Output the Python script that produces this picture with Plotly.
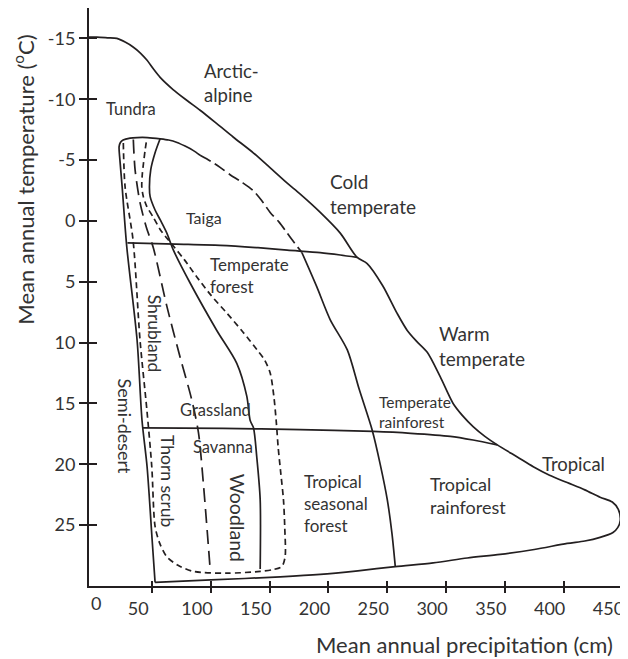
import plotly.graph_objects as go

# ---------------- data (precipitation in cm, temperature in degC) ----------------
outer_precip = [-3.7, 3, 12, 20, 27, 33.8, 40, 45.7, 51, 56.8, 67.8, 79.7, 90.8, 105, 118.9,
                136, 150, 164.9, 176, 193, 210, 224.4, 232.9, 246, 258.4, 267, 275, 284, 295,
                306, 314, 323, 333, 343.6, 360.6, 374.2, 388, 403, 418, 431, 441.4, 446.5,
                448.2, 446, 442, 431, 418, 403, 375, 346, 318, 289, 256.8, 225, 193, 159,
                100, 52.5]
outer_temp = [-15.1, -15.1, -15.05, -15.0, -14.7, -14.3, -13.8, -13.2, -12.5, -11.8, -10.8,
              -9.9, -9.1, -8.0, -6.9, -5.6, -4.4, -3.1, -2.2, -0.7, 1.0, 3.0, 3.5, 5.3, 7.6,
              9.0, 9.9, 10.8, 12.8, 15.0, 16.0, 16.9, 17.7, 18.4, 19.4, 20.2, 20.9, 21.5,
              22.1, 22.7, 23.1, 23.7, 24.6, 25.2, 25.6, 26.0, 26.3, 26.5, 27.0, 27.4, 27.7,
              28.1, 28.4, 28.75, 29.05, 29.25, 29.5, 29.7]

desert_precip = [52.5, 50, 45.7, 41.4, 37.2, 28.4, 24.5, 22.6, 21.9, 23.0, 25.3, 31.2,
                 37.2, 46, 56.8, 64, 71.2, 78, 84.8, 90.8]
desert_temp = [29.7, 26.2, 20.2, 16.4, 9.8, 2.1, -2.8, -5.0, -6.1, -6.45, -6.65, -6.8,
               -6.85, -6.85, -6.75, -6.65, -6.45, -6.15, -5.8, -5.4]

taiga_dash_precip = [90.8, 100, 107.8, 116.3, 126, 135.9, 143, 150.4, 158, 164.9, 171, 177.4]
taiga_dash_temp = [-5.4, -4.9, -4.4, -3.8, -3.2, -2.5, -1.7, -0.7, 0.1, 1.0, 1.8, 2.6]

rain_precip = [177.4, 190, 201.4, 216, 226, 237.2, 244, 250, 254, 256.8]
rain_temp = [2.6, 5.4, 8.1, 10.6, 13.8, 17.2, 20.0, 22.9, 25.7, 28.4]

cold_line_precip = [29.0, 70, 107.8, 140, 164.9, 192.9, 210, 224.4]
cold_line_temp = [1.8, 1.9, 2.0, 2.2, 2.4, 2.6, 2.8, 3.0]

warm_line_precip = [42.2, 110, 176, 238, 270, 303.6, 323, 343.6]
warm_line_temp = [17.0, 17.05, 17.15, 17.3, 17.45, 17.7, 18.0, 18.4]

wood_precip = [56.8, 52.5, 48.8, 47.7, 48.3, 52.5, 56.8, 62.5, 68.1, 82.3, 105, 122,
               130.5, 133.4, 136.2, 139, 141.9, 141.9]
wood_temp = [-6.75, -5.6, -4.2, -2.8, -2.0, -0.9, -0.1, 1.0, 2.4, 5.1, 9.0, 11.7, 14.4,
             16.4, 17.0, 19.4, 22.9, 28.6]

grass_precip = [34, 35.5, 39.7, 45, 51, 62.5, 73.8, 83.7, 89.4, 93.6, 99.5]
grass_temp = [-6.7, -4.2, -1.5, 0.5, 2.2, 7.0, 11.2, 14.7, 17.4, 21.6, 28.8]

fire_precip = [25.5, 27.0, 33.8, 39.7, 45.5, 49.7, 52.5, 56.5, 62.5, 72, 85.1, 113.5, 141.9,
               153, 160.3, 163.1, 162.8, 161.7, 159.5, 157.2, 155.5, 153.5, 150.4, 145.5,
               139.3, 127, 113.8, 100, 88, 77.5, 67.5, 61.5, 56.8, 51, 45.4, 42.5, 41.2,
               41.6, 42.6, 44, 45.4]
fire_temp = [-6.4, -2.8, 1.6, 9.8, 15.5, 20.2, 25.1, 26.5, 27.6, 28.3, 28.8, 28.95, 28.8,
             28.65, 28.4, 27.6, 25.2, 22.9, 20.8, 18.6, 16.4, 14.4, 12.5, 11.4, 10.6, 9.1,
             7.6, 6.1, 4.6, 3.2, 2.0, 1.3, 0.7, -0.3, -1.2, -2.0, -2.8, -3.8, -4.7, -5.8, -6.7]

x_ticks = [50, 100, 150, 200, 250, 300, 350, 400, 450]
y_ticks = [-15, -10, -5, 0, 5, 10, 15, 20, 25]
y_tick_text = ["-15", "-10", "-5", "0", "5", "10", "15", "20", "25"]

biome_labels = ["Arctic-<br>alpine", "Tundra", "Taiga", "Temperate<br>forest", "Cold<br>temperate",
                "Warm<br>temperate", "Temperate<br>rainforest", "Tropical", "Tropical<br>rainforest",
                "Tropical<br>seasonal<br>forest", "Grassland", "Savanna", "Woodland", "Thorn scrub",
                "Semi-desert", "Shrubland"]

# ---------------- figure ----------------
INK = "#231f20"
TXT = "#333333"
FONT = "Lato, 'Open Sans', sans-serif"
X_RANGE = [-3.7, 450.5]
Y_RANGE = [30.0, -17.5]

fig = go.Figure()

def add_line(xs, ys, dash="solid", width=1.7):
    fig.add_trace(go.Scatter(x=xs, y=ys, mode="lines",
                             line=dict(color=INK, width=width, dash=dash, shape="spline", smoothing=0.8),
                             showlegend=False, hoverinfo="skip"))

add_line(outer_precip, outer_temp)
add_line(desert_precip, desert_temp)
add_line(taiga_dash_precip, taiga_dash_temp, dash="12px,5px")
add_line(rain_precip, rain_temp)
add_line(cold_line_precip, cold_line_temp)
add_line(warm_line_precip, warm_line_temp)
add_line(wood_precip, wood_temp)
add_line(grass_precip, grass_temp, dash="14px,7px")
add_line(fire_precip, fire_temp, dash="6px,4px")

# invisible trace for the overlay axes that carry the inner half of the crossing ticks
fig.add_trace(go.Scatter(x=[None], y=[None], xaxis="x2", yaxis="y2", showlegend=False, hoverinfo="skip"))

label_specs = [
    # (text index, x, y, xanchor, angle, size)
    (0, 92.2, -11.3, "left", 0, 18.5),
    (1, 32.0, -9.2, "center", 0, 16.5),
    (2, 94.2, -0.3, "center", 0, 16),
    (3, 97.6, 4.5, "left", 0, 17),
    (4, 199.7, -2.2, "left", 0, 19),
    (5, 292.5, 10.3, "left", 0, 19),
    (6, 241.4, 15.7, "left", 0, 15.5),
    (7, 380.2, 20.0, "left", 0, 18.5),
    (8, 284.9, 22.6, "left", 0, 18),
    (9, 177.6, 23.2, "left", 0, 17),
    (10, 103.5, 15.5, "center", 0, 16.5),
    (11, 110.4, 18.6, "center", 0, 16.5),
    (12, 122.3, 24.4, "center", 90, 19.5),
    (13, 62.9, 21.4, "center", 90, 17.5),
    (14, 26.9, 16.9, "center", 90, 18),
    (15, 51.7, 9.2, "center", 90, 17.5),
]
annotations = []
for idx, x, y, xa, ang, size in label_specs:
    annotations.append(dict(text=biome_labels[idx], x=x, y=y, xref="x", yref="y",
                            xanchor=xa if ang == 0 else "center", yanchor="middle",
                            align="left" if xa == "left" else "center",
                            textangle=ang, showarrow=False,
                            font=dict(family=FONT, size=size, color=TXT)))

annotations.append(dict(text="0", x=0, y=-0.029, xref="x", yref="paper", xshift=3,
                        xanchor="center", yanchor="middle", showarrow=False,
                        font=dict(family=FONT, size=18, color=TXT)))
annotations.append(dict(text="Mean annual temperature (<sup>o</sup>C)", x=-0.1217, y=0.703,
                        xref="paper", yref="paper", textangle=-90, showarrow=False,
                        xanchor="center", yanchor="middle",
                        font=dict(family=FONT, size=22, color=TXT)))
annotations.append(dict(text="Mean annual precipitation (cm)", x=0.704, y=-0.102,
                        xref="paper", yref="paper", showarrow=False,
                        xanchor="center", yanchor="middle",
                        font=dict(family=FONT, size=22, color=TXT)))

axis_common = dict(showgrid=False, zeroline=False, tickwidth=2, tickcolor=INK)

# The page body has an 8px default margin, so the figure is sized 8px smaller
fig.update_layout(
    width=620, height=651,
    margin=dict(l=81, r=5, t=0, b=73),
    paper_bgcolor="white", plot_bgcolor="white",
    showlegend=False,
    annotations=annotations,
    xaxis=dict(range=X_RANGE, autorange=False, showline=True, linecolor=INK, linewidth=2,
               ticks="outside", ticklen=5, tickvals=x_ticks, ticktext=[str(v) for v in x_ticks],
               tickfont=dict(family=FONT, size=18, color=TXT), ticklabelshift=-14,
               ticklabeloverflow="allow",
               **axis_common),
    yaxis=dict(range=Y_RANGE, autorange=False, showline=True, linecolor=INK, linewidth=2,
               ticks="outside", ticklen=8, tickvals=y_ticks, ticktext=y_tick_text,
               tickfont=dict(family=FONT, size=18, color=TXT), **axis_common),
    xaxis2=dict(range=X_RANGE, autorange=False, overlaying="x", anchor="y", side="bottom",
                ticks="inside", ticklen=5, tickvals=x_ticks, showticklabels=False,
                showline=False, **axis_common),
    yaxis2=dict(range=Y_RANGE, autorange=False, overlaying="y", anchor="x", side="left",
                ticks="inside", ticklen=8, tickvals=y_ticks, showticklabels=False,
                showline=False, **axis_common),
)

fig.write_html("out.html",
               post_script="document.documentElement.style.overflow='hidden';"
                           "document.body.style.overflow='hidden';")
